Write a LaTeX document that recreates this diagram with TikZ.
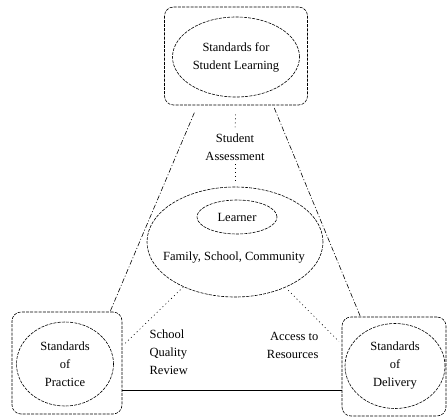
\documentclass[tikz,border=0pt]{standalone}
\usepackage{fontspec}
\setmainfont{Liberation Serif}
\usetikzlibrary{shapes.geometric}

\begin{document}
\begin{tikzpicture}[x=1pt, y=-1pt, line width=0.6pt,
        font=\fontsize{12.5}{18}\selectfont,
        stdbox/.style={draw, rounded corners=9pt, dash pattern=on 3pt off 1.2pt, inner sep=0pt},
        stdoval/.style={draw, ellipse, dash pattern=on 3pt off 1.2pt, inner sep=0pt, align=center},
        link/.style={dash pattern=on 5pt off 2pt on 1pt off 2pt},
        flow/.style={dash pattern=on 1pt off 3pt}]
    \useasboundingbox (0,0) rectangle (447,418);

    \node[stdbox, minimum width=143pt, minimum height=98pt] (slbox) at (236,56) {};
    \node[stdoval, minimum width=127pt, minimum height=80pt] (sl) at (236,57) {Standards for\\Student Learning};

    \node[stdbox, minimum width=110pt, minimum height=102pt] (spbox) at (67,363) {};
    \node[stdoval, minimum width=97pt, minimum height=84pt] (sp) at (65,364) {Standards\\of\\Practice};

    \node[stdbox, minimum width=104pt, minimum height=99pt] (sdbox) at (394,366.5) {};
    \node[stdoval, minimum width=100pt, minimum height=85pt] (sd) at (395,366) {Standards\\of\\Delivery};

    \node[stdoval, minimum width=176pt, minimum height=110pt] (community) at (235,242) {};
    \node[stdoval, minimum width=80pt, minimum height=34pt] (learner) at (237,217) {Learner};
    \node (family) at (234,258) {Family, School, Community};

    \node[align=center] (assess) at (235,147) {Student\\Assessment};
    \node[anchor=west, align=left] (quality) at (146,352.5) {School\\Quality\\Review};
    \node[anchor=east, align=right] (access) at (322,345.5) {Access to\\Resources};

    \draw[link, shorten <=8pt] (slbox.232.5) -- (spbox.50);
    \draw[link, shorten <=3pt] (slbox.307.7) -- (sdbox.124);
    \draw[flow, shorten <=9pt] (slbox.south) -- (assess.north);
    \draw[flow, shorten >=3pt] (assess.south) -- (community.north);
    \draw[flow, shorten >=4pt] (community.221.5) -- (spbox.17);
    \draw[flow, shorten <=4pt, shorten >=4pt] (community.318) -- (sdbox.157.5);
    \draw (spbox.-26.1) -- (spbox.-26.1 -| sdbox.west);
\end{tikzpicture}
\end{document}
